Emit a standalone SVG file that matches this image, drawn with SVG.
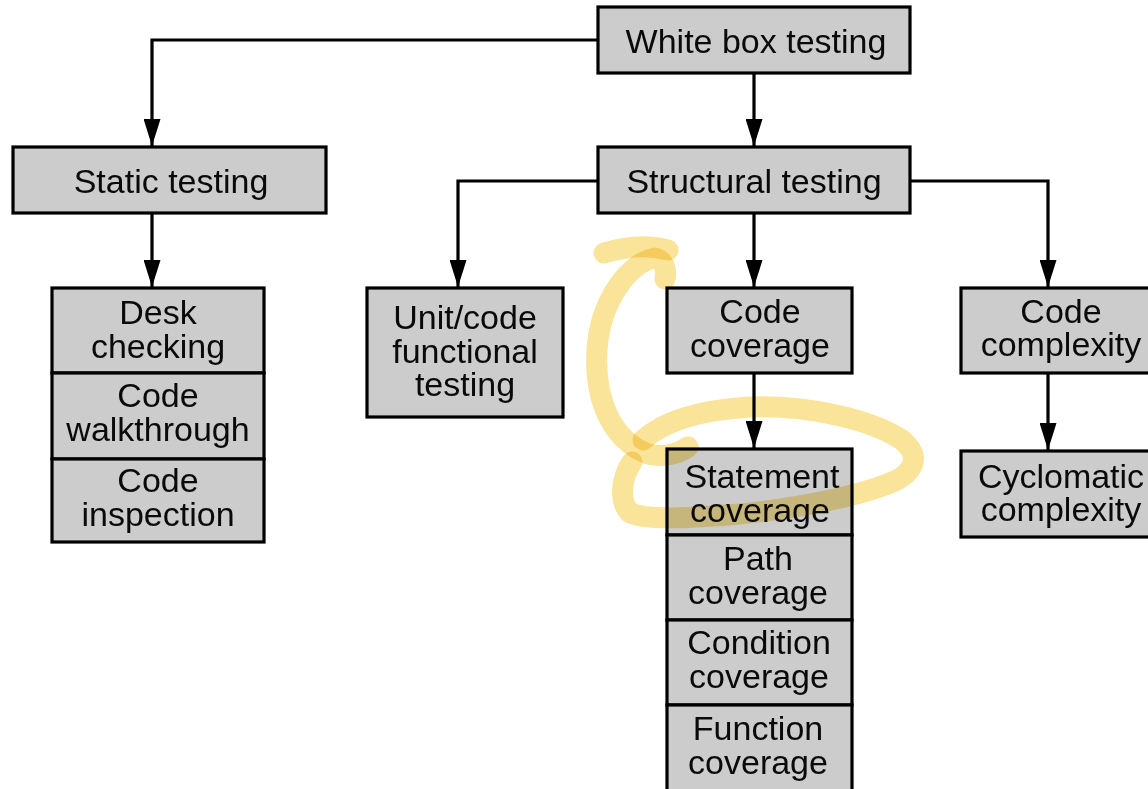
<svg xmlns="http://www.w3.org/2000/svg" width="1148" height="789" viewBox="0 0 1148 789">
<style>
.box{fill:#cccccc;stroke:#000;stroke-width:3.2}
.t{font-family:"Liberation Sans",Arial,Helvetica,sans-serif;font-size:34px;fill:#0a0a0a;text-anchor:middle}
.c{fill:none;stroke:#000;stroke-width:3.2}
.hl{fill:none;stroke:#f9e49a;stroke-width:21;stroke-linecap:round;stroke-linejoin:round;mix-blend-mode:multiply}
</style>
<defs>
<marker id="arr" viewBox="0 0 27 17" refX="27" refY="8.5" markerWidth="27" markerHeight="17" markerUnits="userSpaceOnUse" orient="auto">
<path d="M0,0 L27,8.5 L0,17 z" fill="#000"/>
</marker>
</defs>
<rect width="1148" height="789" fill="#fff"/>
<g id="connectors">
<path class="c" d="M598,40 H152 V146" marker-end="url(#arr)"/>
<path class="c" d="M754,73 V146" marker-end="url(#arr)"/>
<path class="c" d="M152,213 V287" marker-end="url(#arr)"/>
<path class="c" d="M598,181 H458 V287" marker-end="url(#arr)"/>
<path class="c" d="M754,213 V287" marker-end="url(#arr)"/>
<path class="c" d="M910,181 H1048 V287" marker-end="url(#arr)"/>
<path class="c" d="M754,373 V448" marker-end="url(#arr)"/>
<path class="c" d="M1048,373 V450" marker-end="url(#arr)"/>
</g>
<g id="white-box-testing">
<rect class="box" x="598" y="7" width="312" height="66"/>
<text class="t" x="756" y="53">White box testing</text>
</g>
<g id="static-testing">
<rect class="box" x="13" y="147" width="313" height="66"/>
<text class="t" x="171" y="193">Static testing</text>
</g>
<g id="structural-testing">
<rect class="box" x="598" y="147" width="312" height="66"/>
<text class="t" x="754" y="193">Structural testing</text>
</g>
<g id="static-methods">
<rect class="box" x="52" y="288" width="212" height="85"/>
<text class="t"><tspan x="158" y="324">Desk</tspan><tspan x="158" y="358">checking</tspan></text>
<rect class="box" x="52" y="373" width="212" height="86"/>
<text class="t"><tspan x="158" y="407">Code</tspan><tspan x="158" y="441">walkthrough</tspan></text>
<rect class="box" x="52" y="459" width="212" height="83"/>
<text class="t"><tspan x="158" y="492">Code</tspan><tspan x="158" y="526">inspection</tspan></text>
</g>
<g id="unit-code-functional-testing">
<rect class="box" x="367" y="288" width="196" height="129"/>
<text class="t"><tspan x="465" y="329">Unit/code</tspan><tspan x="465" y="363">functional</tspan><tspan x="465" y="396">testing</tspan></text>
</g>
<g id="code-coverage">
<rect class="box" x="667" y="288" width="185" height="85"/>
<text class="t"><tspan x="760" y="323">Code</tspan><tspan x="760" y="357">coverage</tspan></text>
</g>
<g id="code-complexity">
<rect class="box" x="961" y="288" width="200" height="85"/>
<text class="t"><tspan x="1061" y="323">Code</tspan><tspan x="1061" y="356">complexity</tspan></text>
</g>
<g id="coverage-types">
<rect class="box" x="667" y="449" width="185" height="86"/>
<text class="t"><tspan x="762" y="488">Statement</tspan><tspan x="760" y="522">coverage</tspan></text>
<rect class="box" x="667" y="535" width="185" height="85"/>
<text class="t"><tspan x="758" y="570">Path</tspan><tspan x="758" y="604">coverage</tspan></text>
<rect class="box" x="667" y="620" width="185" height="85"/>
<text class="t"><tspan x="759" y="654">Condition</tspan><tspan x="759" y="688">coverage</tspan></text>
<rect class="box" x="667" y="705" width="185" height="100"/>
<text class="t"><tspan x="758" y="740">Function</tspan><tspan x="758" y="774">coverage</tspan></text>
</g>
<g id="cyclomatic-complexity">
<rect class="box" x="961" y="451" width="200" height="86"/>
<text class="t"><tspan x="1061" y="488">Cyclomatic</tspan><tspan x="1061" y="521">complexity</tspan></text>
</g>
<g id="highlight">
<path class="hl" d="M604,253 Q640,242 668,250"/>
<path class="hl" d="M665,279 Q668,262 655,258 C630,262 600,300 597,350 C594,400 612,440 648,454 C665,458 680,453 688,447"/>
<path class="hl" d="M643,440 C665,420 700,410 750,407 C810,405 872,420 902,440 C920,455 916,470 895,481 C860,496 800,508 740,514 C690,518 645,521 629,512 C619,500 621,478 632,462"/>
</g>
</svg>
